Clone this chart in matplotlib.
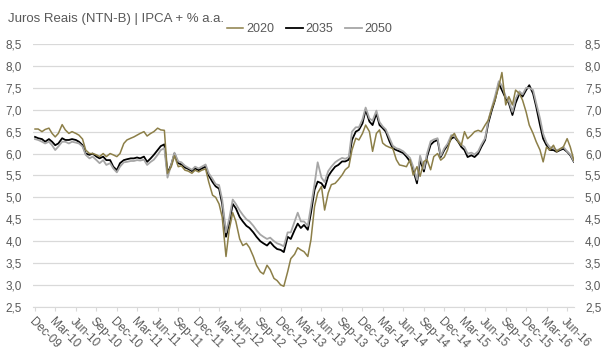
import pandas as pd
import matplotlib
matplotlib.use("Agg")
import matplotlib.pyplot as plt
import matplotlib.dates as mdates
from matplotlib.ticker import FuncFormatter, MultipleLocator

# semi-monthly observations, Dec-09 .. Jul-16
dates = pd.date_range("2009-12-01", periods=159, freq="SMS")

ntnb_2020 = [
    6.56, 6.56, 6.50, 6.55, 6.58, 6.46, 6.38, 6.46, 6.66, 6.54,
    6.46, 6.50, 6.46, 6.42, 6.33, 6.08, 6.00, 6.00, 5.97, 5.93,
    6.00, 5.93, 6.00, 5.97, 5.93, 6.00, 6.23, 6.31, 6.35, 6.38,
    6.42, 6.46, 6.50, 6.40, 6.46, 6.50, 6.58, 6.54, 6.53,
    5.55, 5.70, 5.95, 5.70, 5.72, 5.62, 5.60, 5.55, 5.62, 5.58,
    5.62, 5.65, 5.35, 5.05, 5.00, 4.85, 4.55, 3.65, 4.25, 4.65,
    4.45, 4.05, 3.90, 3.95, 3.85, 3.65, 3.45, 3.30, 3.25, 3.45,
    3.35, 3.15, 3.10, 3.00, 2.97, 3.30, 3.60, 3.70, 3.85, 3.80,
    3.76, 3.65, 4.03, 4.79, 5.10, 5.25, 4.71, 5.10, 5.29, 5.32,
    5.40, 5.51, 5.63, 5.70, 6.08, 6.35, 6.31, 6.46, 6.65, 6.50,
    6.05, 6.46, 6.54, 6.24, 6.18, 6.14, 6.12, 5.86, 5.74, 5.72,
    5.70, 5.86, 5.51, 5.70, 5.48, 5.82, 5.86, 5.63, 5.93, 6.00,
    5.85, 5.92, 6.08, 6.38, 6.46, 6.27, 6.19, 6.50, 6.34, 6.42,
    6.50, 6.53, 6.50, 6.65, 6.76, 7.03, 7.22, 7.53, 7.85, 7.11,
    7.30, 7.11, 7.45, 7.37, 7.22, 6.95, 6.65, 6.46, 6.27, 6.08,
    5.81, 6.15, 6.08, 6.19, 6.04, 6.11, 6.15, 6.34, 6.15, 5.85,
]

ntnb_2035 = [
    6.38, 6.35, 6.33, 6.27, 6.33, 6.27, 6.19, 6.23, 6.35, 6.31,
    6.31, 6.33, 6.31, 6.27, 6.19, 6.00, 5.97, 6.00, 5.93, 5.89,
    5.93, 5.85, 5.85, 5.70, 5.62, 5.78, 5.85, 5.87, 5.89, 5.89,
    5.91, 5.89, 5.93, 5.81, 5.89, 5.97, 6.08, 6.17, 6.21,
    5.55, 5.75, 6.00, 5.78, 5.75, 5.68, 5.65, 5.60, 5.66, 5.62,
    5.66, 5.70, 5.50, 5.35, 5.25, 5.20, 4.85, 4.10, 4.40, 4.85,
    4.75, 4.55, 4.45, 4.35, 4.30, 4.20, 4.10, 4.00, 3.95, 3.90,
    3.98, 3.88, 3.82, 3.80, 3.75, 4.10, 4.05, 4.25, 4.40, 4.30,
    4.37, 4.26, 4.64, 5.17, 5.36, 5.32, 5.21, 5.48, 5.59, 5.70,
    5.74, 5.82, 5.82, 5.86, 6.31, 6.50, 6.54, 6.69, 7.00, 6.73,
    6.65, 6.92, 6.65, 6.58, 6.50, 6.27, 6.12, 6.08, 6.05, 6.01,
    5.93, 5.82, 5.63, 5.32, 5.86, 5.59, 5.93, 6.20, 6.27, 6.31,
    5.92, 6.08, 6.19, 6.34, 6.38, 6.27, 6.15, 6.08, 5.92, 5.96,
    5.92, 6.00, 6.15, 6.31, 6.69, 6.99, 7.22, 7.60, 7.45, 7.26,
    7.15, 6.88, 7.15, 7.37, 7.30, 7.45, 7.56, 7.37, 7.07, 6.65,
    6.34, 6.19, 6.08, 6.08, 6.04, 6.08, 6.11, 6.04, 5.96, 5.81,
]

ntnb_2050 = [
    6.33, 6.31, 6.27, 6.23, 6.27, 6.19, 6.08, 6.16, 6.27, 6.27,
    6.23, 6.27, 6.25, 6.23, 6.16, 5.97, 5.89, 5.93, 5.85, 5.78,
    5.85, 5.74, 5.78, 5.66, 5.57, 5.70, 5.80, 5.81, 5.83, 5.83,
    5.85, 5.84, 5.86, 5.74, 5.81, 5.86, 5.97, 6.08, 6.12,
    5.45, 5.75, 6.02, 5.82, 5.80, 5.72, 5.68, 5.63, 5.70, 5.66,
    5.70, 5.75, 5.55, 5.42, 5.30, 5.28, 4.95, 4.20, 4.50, 4.95,
    4.85, 4.70, 4.60, 4.50, 4.45, 4.35, 4.25, 4.15, 4.10, 4.05,
    4.08, 4.00, 3.95, 3.92, 3.88, 4.20, 4.20, 4.45, 4.65, 4.45,
    4.45, 4.35, 4.80, 5.30, 5.80, 5.45, 5.35, 5.60, 5.70, 5.80,
    5.85, 5.90, 5.88, 5.92, 6.50, 6.60, 6.60, 6.78, 7.05, 6.80,
    6.75, 6.98, 6.72, 6.62, 6.55, 6.35, 6.18, 6.12, 6.10, 6.05,
    5.98, 5.90, 5.70, 5.40, 5.95, 5.65, 6.00, 6.28, 6.32, 6.35,
    5.95, 6.12, 6.22, 6.42, 6.40, 6.30, 6.20, 6.15, 6.00, 6.02,
    5.98, 6.05, 6.20, 6.35, 6.75, 7.05, 7.30, 7.65, 7.55, 7.30,
    7.20, 6.95, 7.25, 7.42, 7.35, 7.50, 7.50, 7.45, 7.15, 6.80,
    6.45, 6.25, 6.15, 6.12, 6.08, 6.10, 6.15, 6.05, 5.98, 5.82,
]

series_labels = ["2020", "2035", "2050"]
tick_dates = pd.date_range("2009-12-01", "2016-06-01", freq="3MS")

plt.rcParams["font.family"] = ["Liberation Sans Narrow", "Liberation Sans", "DejaVu Sans"]
text_color = "#595959"

fig = plt.figure(figsize=(6.07, 3.64), dpi=100)
ax = fig.add_axes([0.0544, 0.157, 0.891, 0.722])

ax.plot(dates, ntnb_2020, color="#8c7f48", lw=1.1, label=series_labels[0], zorder=4)
ax.plot(dates, ntnb_2035, color="#000000", lw=1.3, label=series_labels[1], zorder=2)
ax.plot(dates, ntnb_2050, color="#a6a6a6", lw=1.3, label=series_labels[2], zorder=3)

ax.set_ylim(2.5, 8.5)
ax.yaxis.set_major_locator(MultipleLocator(0.5))
ax.yaxis.set_major_formatter(FuncFormatter(lambda v, p: f"{v:.1f}".replace(".", ",")))
ax.set_xlim(pd.Timestamp("2009-11-22"), pd.Timestamp("2016-07-01"))
ax.set_xticks(tick_dates)
ax.xaxis.set_major_formatter(mdates.DateFormatter("%b-%y"))

ax.grid(axis="y", color="#d9d9d9", lw=0.9)
ax.set_axisbelow(True)
for s in ["top", "left", "right"]:
    ax.spines[s].set_visible(False)
ax.spines["bottom"].set_color("#d9d9d9")

ax.tick_params(axis="y", which="both", length=0, labelsize=8.5, labelcolor=text_color,
               left=True, right=True, labelleft=True, labelright=True, pad=8)
ax.tick_params(axis="x", length=3, color="#d9d9d9", labelsize=8.5, labelcolor=text_color, pad=3)
for lbl in ax.get_xticklabels():
    lbl.set_rotation(-45)
    lbl.set_ha("left")
    lbl.set_va("top")
    lbl.set_rotation_mode("anchor")

fig.text(0.013, 0.94, "Juros Reais (NTN-B) | IPCA + % a.a.", fontsize=9.5, color=text_color)
leg = fig.legend(loc="center", bbox_to_anchor=(0.51, 0.92), ncol=3, frameon=False,
                 fontsize=9, handlelength=1.3, handletextpad=0.2, columnspacing=1.0)
for t in leg.get_texts():
    t.set_color(text_color)

fig.savefig("out.png", dpi=100)
